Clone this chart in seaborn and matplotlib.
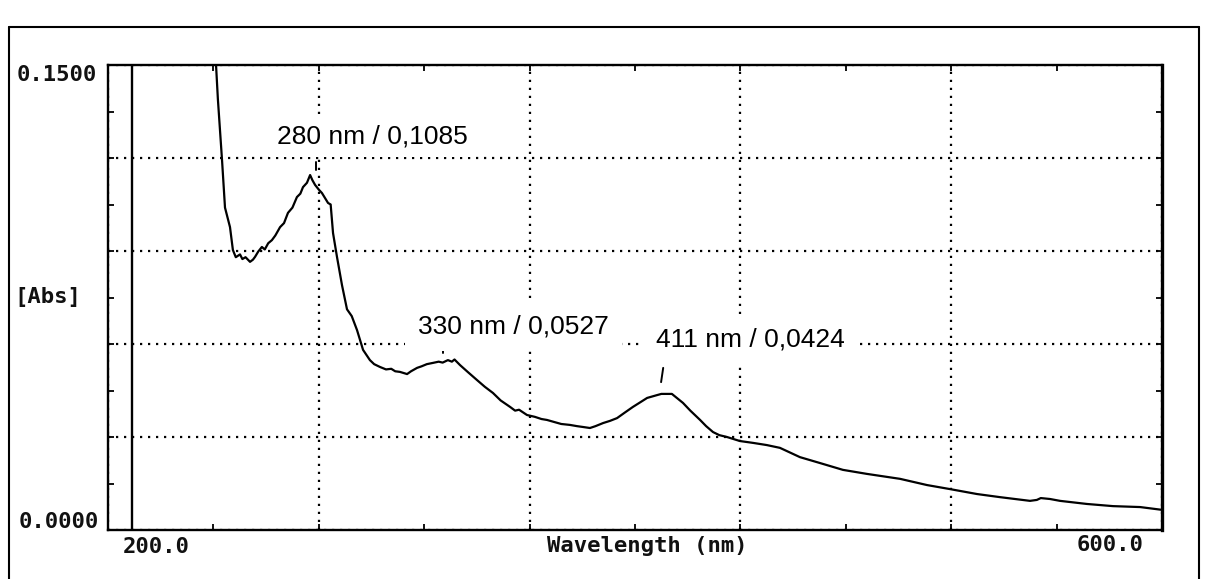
import matplotlib
matplotlib.use("Agg")
import matplotlib.pyplot as plt
import seaborn as sns
import pandas as pd
from matplotlib.lines import Line2D

# ---- data ----
wavelength = [240.2, 241.0, 241.7, 243.3, 244.4, 246.3, 247.4, 248.5, 250.1, 251.0,
              252.2, 253.9, 255.0, 255.8, 257.0, 258.4, 259.5, 260.8, 262.2, 263.5,
              265.3, 266.8, 268.3, 270.0, 271.7, 273.0, 274.0, 275.5, 276.7, 277.6,
              278.6, 280.0, 281.2, 283.5, 284.5, 285.4, 286.9, 288.8, 290.7, 292.5,
              294.5, 296.8, 299.4, 301.0, 303.2, 305.5, 307.5, 309.0, 310.8, 313.5,
              315.0, 317.3, 319.0, 321.0, 323.3, 325.5, 327.0, 329.0, 330.5, 331.5,
              333.6, 336.5, 340.0, 343.0, 346.1, 349.0, 352.6, 354.5, 356.0, 359.0,
              362.0, 364.5, 366.6, 369.5, 372.0, 375.3, 378.0, 380.5, 382.9, 385.0,
              387.9, 390.5, 393.2, 396.0, 399.2, 402.0, 404.6, 408.3, 410.0, 414.0,
              418.2, 421.0, 424.7, 427.0, 429.6, 432.0, 434.9, 439.8, 444.8, 450.0,
              455.0, 462.6, 470.2, 478.9, 488.0, 500.6, 510.8, 519.5, 529.8, 538.5,
              549.9, 552.5, 554.0, 557.5, 561.3, 571.5, 581.4, 591.7, 600.0]
absorbance = [0.158, 0.150, 0.139, 0.119, 0.104, 0.0977, 0.0903, 0.0880, 0.0889, 0.0874,
              0.0880, 0.0865, 0.0872, 0.0881, 0.0898, 0.0913, 0.0905, 0.0925, 0.0935, 0.0950,
              0.0977, 0.0990, 0.1023, 0.1040, 0.1074, 0.1085, 0.1106, 0.1120, 0.1145, 0.1128,
              0.1113, 0.1098, 0.1087, 0.1055, 0.1050, 0.0958, 0.0881, 0.0790, 0.0712, 0.0690,
              0.0645, 0.0581, 0.0548, 0.0535, 0.0526, 0.0518, 0.0520, 0.0512, 0.0510, 0.0503,
              0.0512, 0.0523, 0.0528, 0.0535, 0.0539, 0.0543, 0.0540, 0.0548, 0.0543, 0.0550,
              0.0532, 0.0510, 0.0484, 0.0462, 0.0442, 0.0418, 0.0397, 0.0385, 0.0388, 0.0371,
              0.0365, 0.0358, 0.0355, 0.0348, 0.0342, 0.0339, 0.0335, 0.0332, 0.0329, 0.0335,
              0.0345, 0.0352, 0.0361, 0.0378, 0.0397, 0.0412, 0.0426, 0.0435, 0.0439, 0.0439,
              0.0410, 0.0385, 0.0355, 0.0335, 0.0316, 0.0306, 0.0300, 0.0287, 0.0281, 0.0274,
              0.0265, 0.0235, 0.0216, 0.0194, 0.0181, 0.0165, 0.0145, 0.0132, 0.0116, 0.0106,
              0.0094, 0.0097, 0.0103, 0.0100, 0.0094, 0.0084, 0.0077, 0.0074, 0.0065]
assert len(wavelength) == len(absorbance)

x_range = [200, 600]
y_range = [0.0, 0.15]
x_major = [200, 280, 360, 440, 520, 600]
x_minor = [240, 320, 400, 480, 560]
y_major = [0.0, 0.03, 0.06, 0.09, 0.12, 0.15]
y_minor = [0.015, 0.045, 0.075, 0.105, 0.135]
x_labels = ["200.0", "600.0"]
y_labels = ["0.0000", "0.1500"]
baseline_marker_wl = 209.1

peak_labels = ["280 nm / 0,1085", "330 nm / 0,0527", "411 nm / 0,0424"]
label_pos_wl = [264.1, 317.6, 408.0]
label_pos_abs = [0.1268, 0.0658, 0.0613]
label_pad = [0.3, 0.5, 0.5]
mark_wl = [[278.9, 278.9], [327.2, 327.2], [410.7, 409.9]]
mark_abs = [[0.1187, 0.1162], [0.0585, 0.0572], [0.0523, 0.0477]]

df = pd.DataFrame({"Wavelength": wavelength, "Abs": absorbance})

# ---- figure ----
sns.set_theme(style="white")
plt.rcParams["font.family"] = ["DejaVu Sans Mono"]
W, H = 1209, 579
fig = plt.figure(figsize=(W / 100, H / 100), dpi=100)
fig.patch.set_facecolor("white")
L, R, T, B = 108, 1162, 65, 530
ax = fig.add_axes([L / W, 1 - B / H, (R - L) / W, (B - T) / H])
ax.set_facecolor("white")

sns.lineplot(data=df, x="Wavelength", y="Abs", ax=ax, color="black",
             linewidth=1.6, estimator=None, sort=False, zorder=3)

ax.set_xlim(*x_range)
ax.set_ylim(*y_range)
ax.set_xticks(x_major)
ax.set_xticks(x_minor, minor=True)
ax.set_yticks(y_major)
ax.set_yticks(y_minor, minor=True)
ax.set_xticklabels([])
ax.set_yticklabels([])
ax.set_xlabel("")
ax.set_ylabel("")
ax.tick_params(which="both", direction="in", length=4, width=1.3,
               top=True, right=True, bottom=True, left=True, color="black")
ax.grid(True, which="major", color="black", linestyle=(0, (1, 2.6)), linewidth=1.6)
for s in ax.spines.values():
    s.set_color("black")
    s.set_linewidth(1.7)
ax.spines["right"].set_linewidth(2.4)

ax.axvline(baseline_marker_wl, color="black", linewidth=1.7, zorder=4)

# annotations
for txt, xw, ya, pd_ in zip(peak_labels, label_pos_wl, label_pos_abs, label_pad):
    ax.text(xw, ya, txt, ha="left", va="center", fontsize=19,
            family=["Liberation Sans", "DejaVu Sans"], color="black", zorder=5,
            bbox=dict(boxstyle=f"square,pad={pd_}", facecolor="white", edgecolor="none"))
for mx, my in zip(mark_wl, mark_abs):
    ax.plot(mx, my, color="black", linewidth=1.4, zorder=4)

# axis end labels
mono = dict(family=["DejaVu Sans Mono"], fontsize=16, fontweight="bold", color="#111111")
ax.text((156 - L) / (R - L), (B - 547) / (B - T), x_labels[0], transform=ax.transAxes,
        ha="center", va="center", **mono)
ax.text((1110 - L) / (R - L), (B - 545) / (B - T), x_labels[1], transform=ax.transAxes,
        ha="center", va="center", **mono)
ax.text((647 - L) / (R - L), (B - 546) / (B - T), "Wavelength (nm)", transform=ax.transAxes,
        ha="center", va="center", **mono)
ax.text((99 - L) / (R - L), (B - 522) / (B - T), y_labels[0], transform=ax.transAxes,
        ha="right", va="center", **mono)
ax.text((97 - L) / (R - L), (B - 75) / (B - T), y_labels[1], transform=ax.transAxes,
        ha="right", va="center", **mono)
ax.text((14 - L) / (R - L), (B - 297) / (B - T), "[Abs]", transform=ax.transAxes,
        ha="left", va="center", **mono)

# outer frame
top_y = 1 - 27 / H
fig.add_artist(Line2D([9 / W, 1199 / W], [top_y, top_y], color="black", lw=1.5, transform=fig.transFigure))
fig.add_artist(Line2D([9 / W, 9 / W], [0, top_y], color="black", lw=1.5, transform=fig.transFigure))
fig.add_artist(Line2D([1199 / W, 1199 / W], [0, top_y], color="black", lw=1.5, transform=fig.transFigure))

fig.savefig("out.png", dpi=100, facecolor="white")
